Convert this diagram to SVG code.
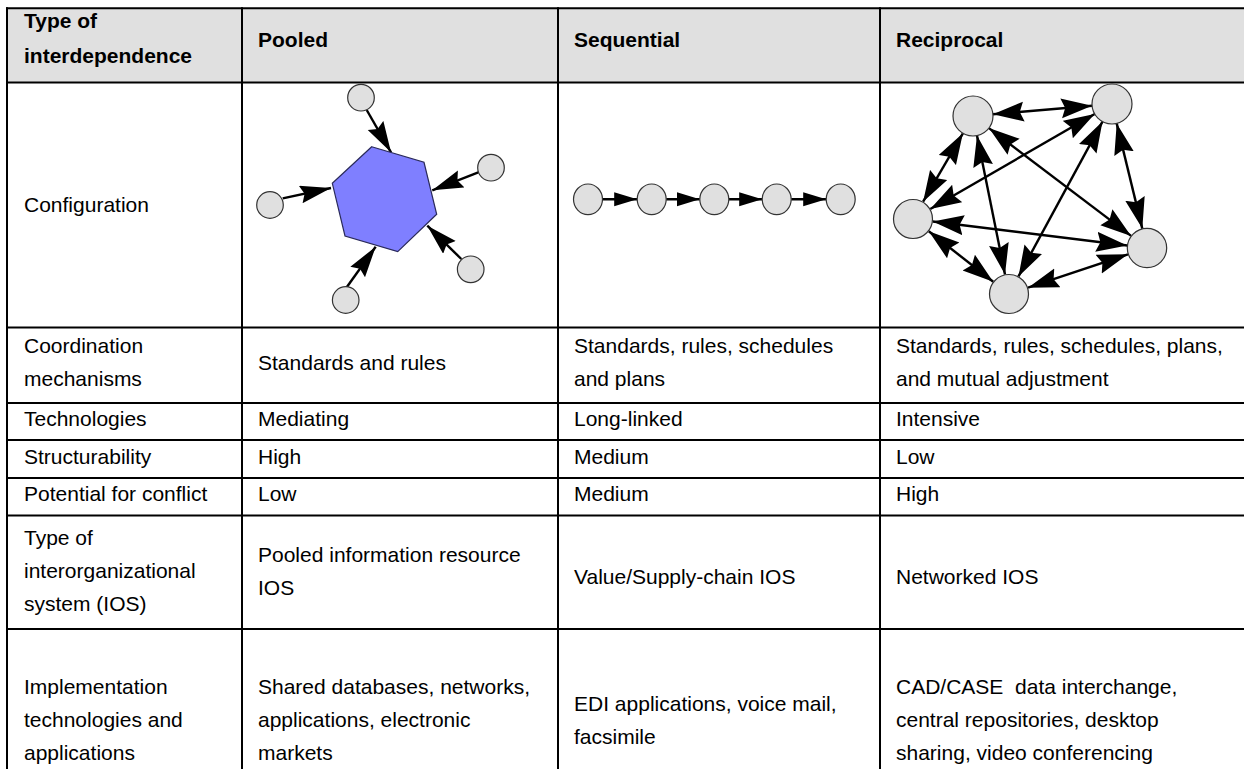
<svg xmlns="http://www.w3.org/2000/svg" width="1244" height="769" viewBox="0 0 1244 769">
<defs>
<style>
.t{font-family:"Liberation Sans",Arial,sans-serif;font-size:21px;fill:#000}
.b{font-weight:bold}
.grid{stroke:#000;stroke-width:2;fill:none}
.nd{fill:#e0e0e0;stroke:#333;stroke-width:1.2}
.ed{stroke:#000;stroke-width:2.4;fill:none}
</style>
<marker id="ah" markerUnits="userSpaceOnUse" markerWidth="32" markerHeight="19" refX="31" refY="9" orient="auto" viewBox="0 0 32 19">
<path d="M0,0 L31,9 L0,18 L4,9 Z" fill="#000"/>
</marker>
<marker id="ahr" markerUnits="userSpaceOnUse" markerWidth="32" markerHeight="21" refX="31" refY="10" orient="auto-start-reverse" viewBox="0 0 32 21">
<path d="M0,0 L31,10 L0,20 L4,10 Z" fill="#000"/>
</marker>
<marker id="ahs" markerUnits="userSpaceOnUse" markerWidth="24" markerHeight="15" refX="23" refY="7" orient="auto" viewBox="0 0 24 15">
<path d="M0,0 L23,7 L0,14 Z" fill="#000"/>
</marker>
</defs>
<rect width="1244" height="769" fill="#fff"/>
<g id="table">
<rect x="7" y="8.3" width="1237" height="74.2" fill="#e0e0e0"/>
<g class="grid">
<line x1="6" y1="8.3" x2="1244" y2="8.3"/>
<line x1="6" y1="82.5" x2="1244" y2="82.5"/>
<line x1="6" y1="327.5" x2="1244" y2="327.5"/>
<line x1="6" y1="403" x2="1244" y2="403"/>
<line x1="6" y1="440" x2="1244" y2="440"/>
<line x1="6" y1="478" x2="1244" y2="478"/>
<line x1="6" y1="515.5" x2="1244" y2="515.5"/>
<line x1="6" y1="629" x2="1244" y2="629"/>
<line x1="7" y1="7.3" x2="7" y2="769"/>
<line x1="242" y1="7.3" x2="242" y2="769"/>
<line x1="558" y1="7.3" x2="558" y2="769"/>
<line x1="880" y1="7.3" x2="880" y2="769"/>
</g>
</g>
<g id="header">
<text class="t b" x="24" y="28.3">Type of</text>
<text class="t b" x="24" y="63.3">interdependence</text>
<text class="t b" x="258" y="46.7">Pooled</text>
<text class="t b" x="574" y="46.7">Sequential</text>
<text class="t b" x="896" y="46.7">Reciprocal</text>
</g>
<g id="labels">
<text class="t" x="24" y="212">Configuration</text>
<text class="t" x="24" y="353">Coordination</text>
<text class="t" x="24" y="386">mechanisms</text>
<text class="t" x="258" y="369.5">Standards and rules</text>
<text class="t" x="574" y="353">Standards, rules, schedules</text>
<text class="t" x="574" y="386">and plans</text>
<text class="t" x="896" y="353">Standards, rules, schedules, plans,</text>
<text class="t" x="896" y="386">and mutual adjustment</text>
<text class="t" x="24" y="426">Technologies</text>
<text class="t" x="258" y="426">Mediating</text>
<text class="t" x="574" y="426">Long-linked</text>
<text class="t" x="896" y="426">Intensive</text>
<text class="t" x="24" y="463.5">Structurability</text>
<text class="t" x="258" y="463.5">High</text>
<text class="t" x="574" y="463.5">Medium</text>
<text class="t" x="896" y="463.5">Low</text>
<text class="t" x="24" y="501">Potential for conflict</text>
<text class="t" x="258" y="501">Low</text>
<text class="t" x="574" y="501">Medium</text>
<text class="t" x="896" y="501">High</text>
<text class="t" x="24" y="545">Type of</text>
<text class="t" x="24" y="578">interorganizational</text>
<text class="t" x="24" y="611">system (IOS)</text>
<text class="t" x="258" y="561.5">Pooled information resource</text>
<text class="t" x="258" y="594.5">IOS</text>
<text class="t" x="574" y="584">Value/Supply-chain IOS</text>
<text class="t" x="896" y="584">Networked IOS</text>
<text class="t" x="24" y="694">Implementation</text>
<text class="t" x="24" y="727">technologies and</text>
<text class="t" x="24" y="760">applications</text>
<text class="t" x="258" y="694">Shared databases, networks,</text>
<text class="t" x="258" y="727">applications, electronic</text>
<text class="t" x="258" y="760">markets</text>
<text class="t" x="574" y="710.5">EDI applications, voice mail,</text>
<text class="t" x="574" y="743.5">facsimile</text>
<text class="t" x="896" y="694" style="white-space:pre">CAD/CASE  data interchange,</text>
<text class="t" x="896" y="727">central repositories, desktop</text>
<text class="t" x="896" y="760">sharing, video conferencing</text>
</g>
<g id="connectors">
<line class="ed" marker-end="url(#ah)" x1="366.7" y1="110" x2="391" y2="152.3"/>
<line class="ed" marker-end="url(#ah)" x1="478.3" y1="172.3" x2="432.3" y2="190.3"/>
<line class="ed" marker-end="url(#ah)" x1="282.7" y1="198.3" x2="331" y2="188"/>
<line class="ed" marker-end="url(#ah)" x1="461.3" y1="259" x2="427.3" y2="225.7"/>
<line class="ed" marker-end="url(#ah)" x1="346.7" y1="287.3" x2="375.7" y2="246.7"/>
<line class="ed" marker-end="url(#ahs)" x1="602.5" y1="199.3" x2="637.2" y2="199.3"/>
<line class="ed" marker-end="url(#ahs)" x1="666.2" y1="199.3" x2="699.8" y2="199.3"/>
<line class="ed" marker-end="url(#ahs)" x1="728.8" y1="199.3" x2="762.2" y2="199.3"/>
<line class="ed" marker-end="url(#ahs)" x1="791.2" y1="199.3" x2="826.2" y2="199.3"/>
<line class="ed" marker-start="url(#ahr)" marker-end="url(#ahr)" x1="992.9" y1="114.3" x2="1092.1" y2="105.7"/>
<line class="ed" marker-start="url(#ahr)" marker-end="url(#ahr)" x1="962.9" y1="133.3" x2="923.1" y2="201.7"/>
<line class="ed" marker-start="url(#ahr)" marker-end="url(#ahr)" x1="977" y1="135.6" x2="1005" y2="274.4"/>
<line class="ed" marker-start="url(#ahr)" marker-end="url(#ahr)" x1="988.9" y1="128.1" x2="1131.1" y2="235.9"/>
<line class="ed" marker-start="url(#ahr)" marker-end="url(#ahr)" x1="1094.7" y1="114" x2="930.3" y2="209"/>
<line class="ed" marker-start="url(#ahr)" marker-end="url(#ahr)" x1="1102.5" y1="121.6" x2="1018.5" y2="276.4"/>
<line class="ed" marker-start="url(#ahr)" marker-end="url(#ahr)" x1="1116.7" y1="123.4" x2="1142.3" y2="228.6"/>
<line class="ed" marker-start="url(#ahr)" marker-end="url(#ahr)" x1="932.8" y1="221.5" x2="1127.2" y2="245.5"/>
<line class="ed" marker-start="url(#ahr)" marker-end="url(#ahr)" x1="928.8" y1="231.3" x2="993.2" y2="281.7"/>
<line class="ed" marker-start="url(#ahr)" marker-end="url(#ahr)" x1="1128" y1="254.3" x2="1028" y2="287.7"/>
</g>
<g id="pooled-hub"><polygon points="371.7,146.7 424,162.3 436.7,214.3 397.7,251.7 345,236 332.3,183.3" fill="#7f7fff" stroke="#2a2a5a" stroke-width="1.2"/></g>
<g id="pooled-n1"><circle class="nd" cx="361" cy="97.7" r="13.3"/></g>
<g id="pooled-n2"><circle class="nd" cx="491" cy="167.7" r="13.3"/></g>
<g id="pooled-n3"><circle class="nd" cx="270" cy="205" r="13.3"/></g>
<g id="pooled-n4"><circle class="nd" cx="470.7" cy="269.3" r="13.3"/></g>
<g id="pooled-n5"><circle class="nd" cx="345.7" cy="300" r="13.3"/></g>
<g id="seq-n1"><ellipse class="nd" cx="588" cy="199.3" rx="14.5" ry="15.3"/></g>
<g id="seq-n2"><ellipse class="nd" cx="651.7" cy="199.3" rx="14.5" ry="15.3"/></g>
<g id="seq-n3"><ellipse class="nd" cx="714.3" cy="199.3" rx="14.5" ry="15.3"/></g>
<g id="seq-n4"><ellipse class="nd" cx="776.7" cy="199.3" rx="14.5" ry="15.3"/></g>
<g id="seq-n5"><ellipse class="nd" cx="840.7" cy="199.3" rx="14.5" ry="15.3"/></g>
<g id="rec-a"><circle class="nd" cx="973" cy="116" r="20"/></g>
<g id="rec-b"><circle class="nd" cx="1112" cy="104" r="20"/></g>
<g id="rec-c"><circle class="nd" cx="913" cy="219" r="19.5"/></g>
<g id="rec-d"><circle class="nd" cx="1147" cy="248" r="19.7"/></g>
<g id="rec-e"><circle class="nd" cx="1009" cy="294" r="19.5"/></g>
</svg>
